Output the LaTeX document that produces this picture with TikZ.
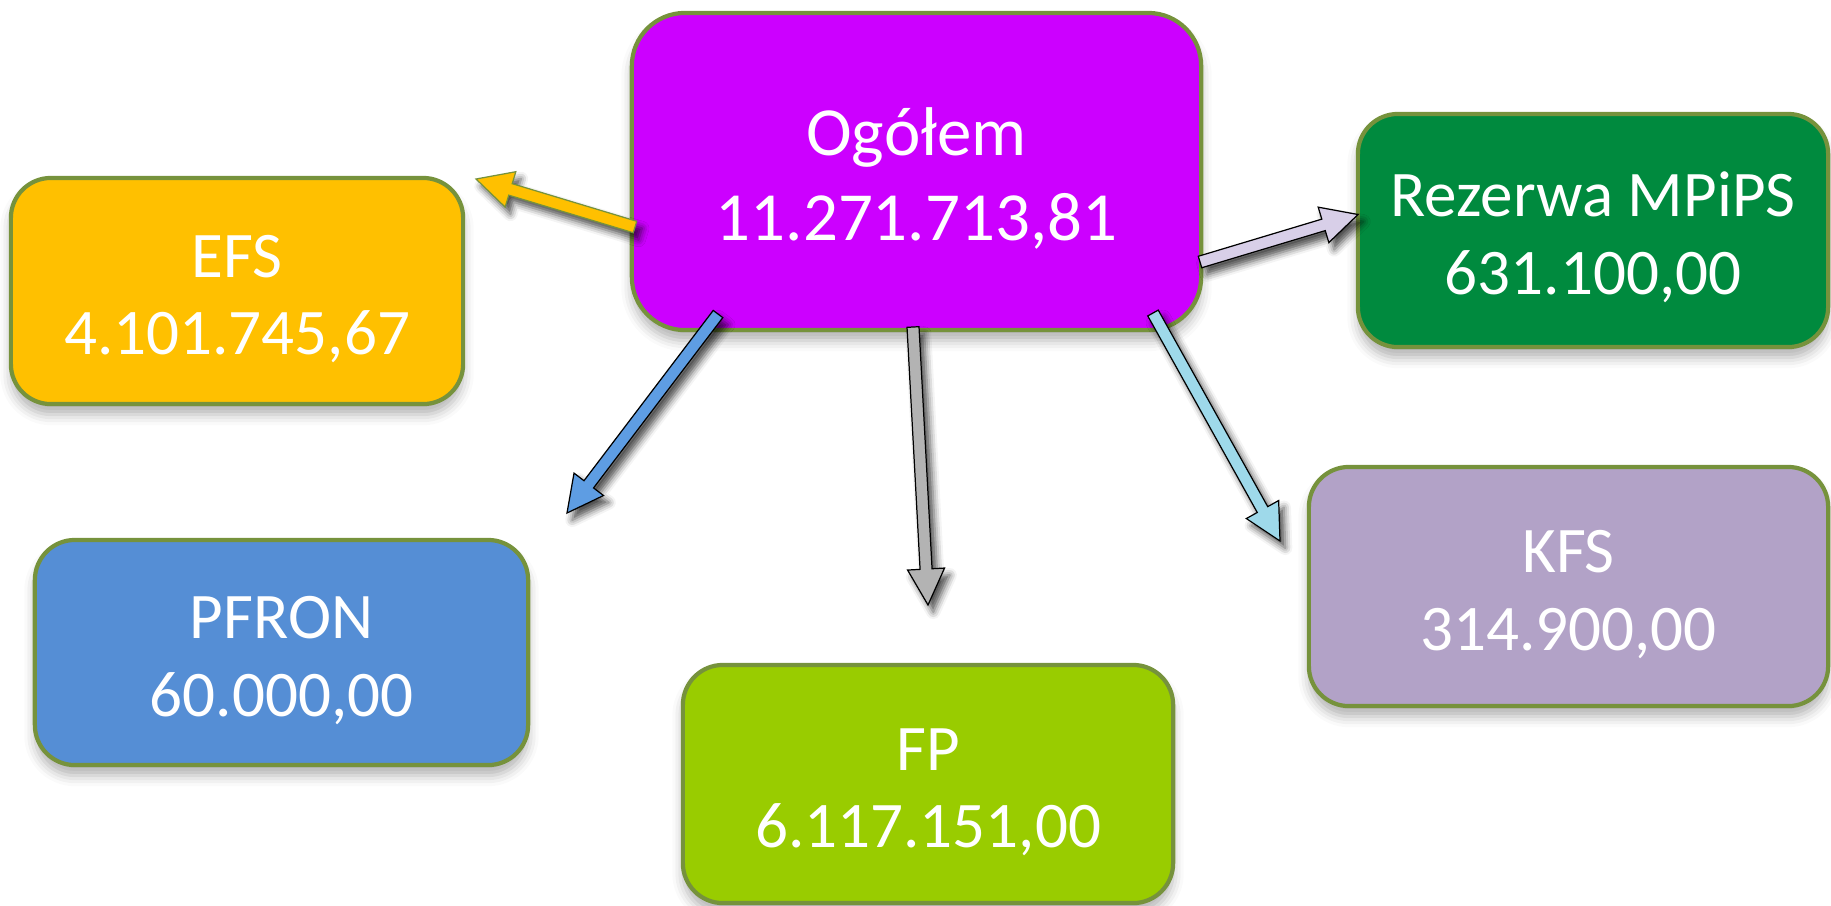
\documentclass[tikz,border=0pt]{standalone}
\usepackage{fontspec}
\setmainfont{Carlito}
\usetikzlibrary{calc,shadows.blur}
\definecolor{rim}{HTML}{76923C}
\definecolor{totalfill}{HTML}{CC00FF}
\definecolor{efsfill}{HTML}{FFC000}
\definecolor{mpipsfill}{HTML}{008A3E}
\definecolor{kfsfill}{HTML}{B2A2C7}
\definecolor{pfronfill}{HTML}{558ED5}
\definecolor{fpfill}{HTML}{99CC00}
\definecolor{pfronarrow}{HTML}{5E9DE3}
\definecolor{fparrow}{HTML}{B3B3B3}
\definecolor{kfsarrow}{HTML}{9ED9EA}
\definecolor{mpipsarrow}{HTML}{D8CFE8}
\newcommand\capstrut{\rule{0pt}{0.9em}}
\tikzset{fund/.style={draw=rim, line width=1.2pt, rounded corners=0.4cm,
         text=white, align=center, inner sep=0pt,
         font=\fontsize{18.5}{22}\selectfont,
         blur shadow={shadow xshift=0pt, shadow yshift=-3pt,
           shadow blur radius=3pt, shadow opacity=30}},
         flow/.style={draw=black, line width=0.35pt,
         blur shadow={shadow xshift=1.5pt, shadow yshift=-2pt,
           shadow blur radius=2pt, shadow opacity=70}}}
\newcommand\flowarrow[3]{%
  \coordinate (ah) at ($(#3)!0.36cm!(#2)$);
  \draw[flow,#1] ($(#2)!0.06cm!90:(#3)$) -- ($(ah)!0.06cm!90:(#3)$)
    -- ($(ah)!0.185cm!90:(#3)$) -- (#3) -- ($(ah)!0.185cm!-90:(#3)$)
    -- ($(ah)!0.06cm!-90:(#3)$) -- ($(#2)!0.06cm!-90:(#3)$) -- cycle;}
\begin{document}
\begin{tikzpicture}[x=0.01cm, y=-0.01cm]
  \useasboundingbox (0,0) rectangle (1831,905);
  \node[fund, fill=totalfill, minimum width=5.69cm, minimum height=3.17cm,
    rounded corners=0.53cm, font=\fontsize{19.6}{24}\selectfont]
    (total) at (916.5,171.5) {\capstrut Ogółem\\11.271.713,81};
  \node[fund, fill=efsfill, minimum width=4.52cm, minimum height=2.26cm]
    (efs) at (237,291) {\capstrut EFS\\4.101.745,67};
  \node[fund, fill=mpipsfill, minimum width=4.70cm, minimum height=2.33cm]
    (mpips) at (1593,230.5) {\capstrut Rezerwa MPiPS\\631.100,00};
  \node[fund, fill=kfsfill, minimum width=5.19cm, minimum height=2.39cm]
    (kfs) at (1568.5,586.5) {\capstrut KFS\\314.900,00};
  \node[fund, fill=pfronfill, minimum width=4.93cm, minimum height=2.25cm]
    (pfron) at (281.5,652.5) {\capstrut PFRON\\60.000,00};
  \node[fund, fill=fpfill, minimum width=4.90cm, minimum height=2.38cm]
    (fp) at (928,784) {\capstrut FP\\6.117.151,00};
  \coordinate (efs-s) at (635,227);    \coordinate (efs-t) at (476,179);
  \coordinate (pfron-s) at (718,314);  \coordinate (pfron-t) at (567,513);
  \coordinate (fp-s) at (913,327);     \coordinate (fp-t) at (928,605);
  \coordinate (kfs-s) at (1153,313);   \coordinate (kfs-t) at (1280,541);
  \coordinate (mpips-s) at (1200,262); \coordinate (mpips-t) at (1358,214.5);
  \foreach \tgt/\col/\edge in {efs/efsfill/rim, pfron/pfronarrow/black,
      fp/fparrow/black, kfs/kfsarrow/black, mpips/mpipsarrow/black}
    {\flowarrow{fill=\col, draw=\edge}{\tgt-s}{\tgt-t}}
\end{tikzpicture}
\end{document}
